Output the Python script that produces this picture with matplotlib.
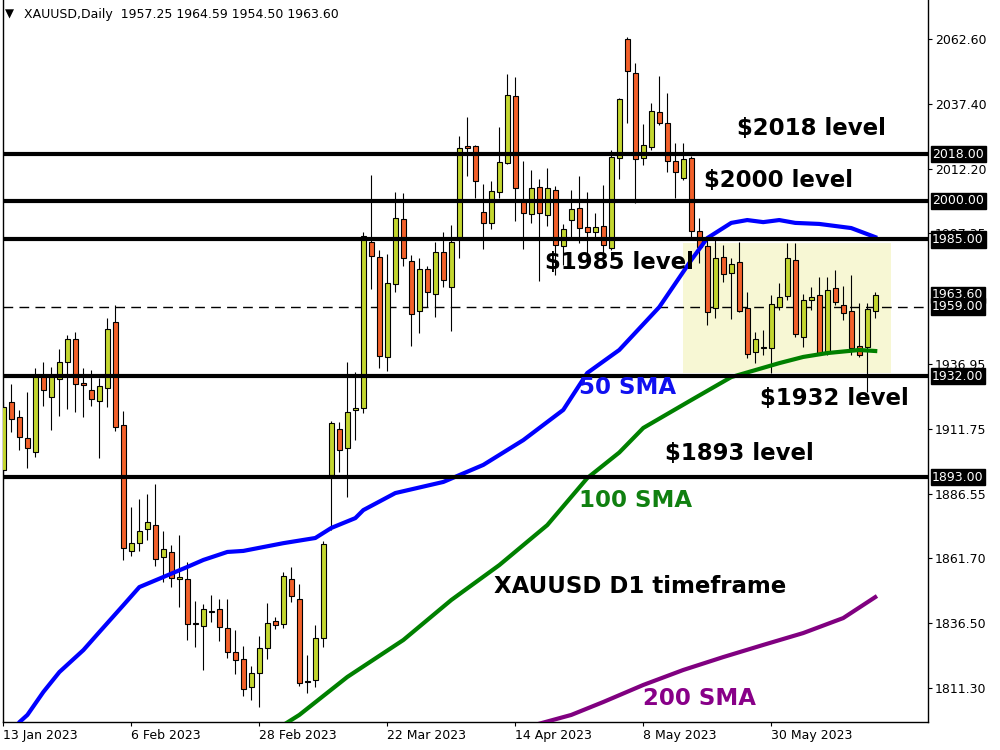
import numpy as np
import matplotlib
matplotlib.use( 'Agg' )
import matplotlib.pyplot as plt
from matplotlib.patches import Rectangle

# XAUUSD daily candles, 13 Jan 2023 -> 16 Jun 2023
opens = [ 1895.7, 1921.9, 1916.1, 1908.0, 1902.8, 1932.1, 1924.1, 1930.8, 1937.4, 1946.3,
          1929.3, 1926.6, 1922.3, 1927.3, 1952.9, 1913.0, 1864.4, 1867.3, 1872.8, 1874.3,
          1861.9, 1863.9, 1853.4, 1853.4, 1836.4, 1835.2, 1840.9, 1841.8, 1834.4, 1825.1,
          1822.4, 1811.6, 1817.0, 1826.7, 1837.1, 1836.0, 1853.4, 1845.8, 1813.9, 1814.3,
          1830.5, 1893.8, 1911.5, 1904.1, 1918.8, 1919.6, 1984.1, 1978.3, 1939.6, 1967.6,
          1992.8, 1976.5, 1957.2, 1973.7, 1963.7, 1980.0, 1966.5, 1985.4, 2021.1, 2021.1,
          1995.5, 1991.2, 2003.2, 2014.5, 2040.4, 1999.8, 1994.7, 2005.2, 1994.3, 2004.0,
          1982.3, 1992.4, 1997.0, 1989.7, 1987.8, 1990.1, 1981.6, 2016.4, 2062.5, 2049.3,
          2016.4, 2020.7, 2034.2, 2030.0, 2015.2, 2008.7, 2016.4, 1988.3, 1982.5, 1958.3,
          1978.1, 1971.9, 1976.1, 1958.3, 1941.4, 1942.8, 1942.8, 1959.0, 1963.2, 1977.0,
          1947.3, 1961.5, 1963.5, 1940.9, 1966.1, 1959.5, 1957.3, 1943.7, 1943.2, 1957.25 ]
highs = [ 1922.2, 1929.0, 1919.0, 1925.8, 1935.1, 1937.4, 1935.5, 1942.5, 1948.0, 1949.0,
          1935.1, 1934.3, 1931.2, 1954.5, 1959.6, 1918.6, 1881.3, 1884.5, 1886.3, 1890.3,
          1872.1, 1866.6, 1870.6, 1860.0, 1845.0, 1843.7, 1847.3, 1845.8, 1845.8, 1833.8,
          1827.6, 1819.8, 1831.3, 1844.2, 1838.9, 1856.2, 1858.0, 1851.5, 1824.1, 1835.6,
          1868.2, 1914.8, 1914.2, 1937.7, 1933.7, 1987.8, 2009.9, 1980.9, 1979.4, 2003.2,
          2002.9, 1979.0, 1977.7, 1974.8, 1984.1, 1987.8, 1990.6, 2024.9, 2032.4, 2021.6,
          2006.3, 2007.5, 2028.5, 2049.0, 2047.9, 2015.2, 2011.9, 2008.3, 2012.5, 2005.6,
          1990.9, 2004.0, 2009.4, 2003.2, 1995.1, 2006.0, 2019.6, 2039.6, 2063.5, 2053.2,
          2029.7, 2037.9, 2048.3, 2041.6, 2022.4, 2022.2, 2017.3, 1993.2, 1986.1, 1985.0,
          1982.8, 1977.7, 1984.0, 1964.8, 1949.3, 1949.9, 1963.5, 1968.0, 1983.5, 1983.5,
          1963.7, 1966.7, 1970.3, 1970.6, 1973.2, 1967.0, 1971.2, 1960.3, 1960.3, 1964.59 ]
lows = [ 1891.8, 1910.5, 1903.5, 1896.4, 1900.9, 1920.6, 1911.2, 1916.6, 1919.3, 1918.2,
         1916.4, 1920.6, 1900.5, 1920.2, 1910.9, 1860.9, 1862.4, 1864.5, 1868.6, 1858.5,
         1852.5, 1850.3, 1842.8, 1830.0, 1827.3, 1818.4, 1837.0, 1829.6, 1823.0, 1816.8,
         1808.3, 1806.7, 1804.1, 1822.7, 1834.2, 1834.4, 1844.7, 1812.2, 1809.3, 1811.6,
         1827.3, 1872.5, 1895.1, 1885.4, 1907.4, 1917.9, 1965.7, 1935.3, 1934.2, 1964.5,
         1974.8, 1943.8, 1948.9, 1958.7, 1955.1, 1966.7, 1949.7, 1977.8, 2009.7, 2000.9,
         1981.4, 1988.9, 2000.9, 2014.1, 1992.2, 1981.2, 1991.2, 1969.0, 1990.3, 1971.2,
         1975.1, 1985.0, 1983.5, 1978.6, 1985.4, 1978.3, 1980.9, 2008.3, 2030.2, 1999.2,
         2013.8, 2019.6, 2029.3, 2011.0, 2001.2, 2008.0, 1984.8, 1975.8, 1951.9, 1954.5,
         1968.6, 1954.1, 1956.8, 1939.0, 1937.0, 1940.2, 1933.2, 1957.7, 1961.5, 1947.2,
         1943.5, 1957.7, 1940.2, 1940.2, 1959.6, 1953.8, 1940.2, 1939.5, 1925.9, 1954.50 ]
closes = [ 1920.2, 1915.4, 1908.4, 1904.1, 1932.1, 1926.6, 1932.1, 1937.4, 1946.3, 1928.9,
           1928.5, 1923.1, 1928.1, 1950.2, 1912.3, 1865.4, 1867.3, 1872.0, 1875.5, 1861.1,
           1865.0, 1853.8, 1854.2, 1836.0, 1836.0, 1841.8, 1841.0, 1834.8, 1825.1, 1822.0,
           1810.8, 1817.0, 1826.7, 1836.4, 1835.6, 1854.6, 1846.8, 1813.1, 1813.5, 1830.5,
           1867.0, 1913.8, 1903.3, 1918.1, 1919.6, 1986.3, 1978.7, 1940.0, 1968.0, 1993.2,
           1977.8, 1956.0, 1973.7, 1964.5, 1980.0, 1969.3, 1984.1, 2020.3, 2020.3, 2007.5,
           1991.2, 2003.6, 2014.9, 2040.8, 2004.8, 1995.1, 2004.8, 1995.1, 2004.8, 1982.7,
           1988.9, 1996.7, 1989.3, 1987.8, 1989.7, 1982.7, 2016.8, 2039.3, 2050.3, 2016.0,
           2021.4, 2034.6, 2030.0, 2015.2, 2011.0, 2016.0, 1988.3, 1982.2, 1957.0, 1977.7,
           1971.5, 1975.4, 1957.4, 1940.6, 1946.6, 1942.9, 1959.9, 1962.8, 1977.7, 1948.3,
           1961.5, 1962.8, 1940.9, 1965.4, 1960.9, 1956.6, 1942.8, 1940.2, 1957.9, 1963.60 ]

# moving averages, sampled at bar numbers
sma50_idx = [ 1, 2, 3, 5, 7, 10, 12, 15, 17, 20, 23, 25, 28, 30, 35, 39, 41, 44, 45, 49,
              55, 60, 65, 70, 73, 77, 82, 86, 88, 91, 93, 95, 97, 99, 102, 106, 109 ]
sma50_val = [ 1793.0, 1798.1, 1800.9, 1809.8, 1817.5, 1826.0, 1833.0, 1843.4, 1850.4, 1854.3,
              1858.2, 1860.9, 1864.0, 1864.4, 1867.4, 1869.4, 1873.3, 1877.1, 1880.2, 1886.8,
              1891.1, 1897.7, 1907.3, 1919.0, 1933.3, 1942.2, 1958.8, 1977.0, 1985.5, 1991.4,
              1992.5, 1991.7, 1992.5, 1991.4, 1991.0, 1989.4, 1985.9 ]
sma100_idx = [ 35, 37, 43, 50, 56, 62, 68, 73, 77, 80, 86, 91, 94, 97, 100, 103, 107, 109 ]
sma100_val = [ 1797.0, 1800.9, 1815.6, 1829.9, 1845.4, 1858.9, 1874.4, 1892.6, 1902.5, 1912.0,
               1922.8, 1931.7, 1934.4, 1937.1, 1939.5, 1941.0, 1942.2, 1941.8 ]
sma200_idx = [ 67, 71, 75, 80, 85, 90, 95, 100, 105, 109 ]
sma200_val = [ 1797.5, 1800.9, 1805.9, 1812.5, 1818.3, 1823.3, 1828.0, 1832.6, 1838.4, 1846.5 ]

# axis labels
date_ticks = [ 0, 16, 32, 48, 64, 80, 96 ]
date_labels = [ '13 Jan 2023', '6 Feb 2023', '28 Feb 2023', '22 Mar 2023',
                '14 Apr 2023', '8 May 2023', '30 May 2023' ]
price_ticks = [ 2062.60, 2037.40, 2012.20, 1987.35, 1936.95,
                1911.75, 1886.55, 1861.70, 1836.50, 1811.30 ]

# horizontal levels and the consolidation box
levels = [ 2018.0, 2000.0, 1985.0, 1932.0, 1893.0 ]
level_names = [ '$2018 level', '$2000 level', '$1985 level', '$1932 level', '$1893 level' ]
dashed_level = 1959.0
last_price = 1963.60
box_bars = [ 85, 111 ]
box_prices = [ 1933.3, 1983.6 ]

bull_color = '#C3D62F'
bear_color = '#F2602A'

fig = plt.figure( figsize = ( 10, 7.5 ), dpi = 100 )
ax = fig.add_axes( [ 0.003, 0.0373, 0.925, 0.9627 ] )

o = np.array( opens )
h = np.array( highs )
l = np.array( lows )
c = np.array( closes )
x = np.arange( len( o ) )
up = c >= o

# range rectangle behind everything
ax.add_patch( Rectangle( ( box_bars[ 0 ], box_prices[ 0 ] ), box_bars[ 1 ] - box_bars[ 0 ],
                         box_prices[ 1 ] - box_prices[ 0 ], facecolor = '#F7F7D4',
                         edgecolor = 'none', zorder = 0.5 ) )

# candles
ax.vlines( x, l, h, color = 'black', lw = 0.8, zorder = 3 )
body_low = np.minimum( o, c )
body_h = np.maximum( np.abs( c - o ), 0.4 )
ax.bar( x[ up ], body_h[ up ], bottom = body_low[ up ], width = 0.62, color = bull_color,
        edgecolor = 'black', lw = 0.8, zorder = 3.1 )
ax.bar( x[ ~up ], body_h[ ~up ], bottom = body_low[ ~up ], width = 0.62, color = bear_color,
        edgecolor = 'black', lw = 0.8, zorder = 3.1 )

# moving averages
ax.plot( sma50_idx, sma50_val, color = '#0000FF', lw = 3, zorder = 3.5 )
ax.plot( sma100_idx, sma100_val, color = '#008000', lw = 3, zorder = 3.5 )
ax.plot( sma200_idx, sma200_val, color = '#800080', lw = 3, zorder = 3.5 )

# levels
for lev in levels:
    ax.axhline( lev, color = 'black', lw = 3, zorder = 4 )
ax.axhline( dashed_level, color = 'black', lw = 1, ls = ( 0, ( 7, 4.5 ) ), zorder = 2 )

ax.set_xlim( -0.05, 115.6 )
ax.set_ylim( 1798.15, 2077.7 )

# right price scale
ax.yaxis.tick_right()
ax.set_yticks( price_ticks )
ax.set_yticklabels( [ '%.2f' % p for p in price_ticks ] )
ax.tick_params( axis = 'y', direction = 'out', length = 3, width = 0.8, pad = 2, labelsize = 9 )
ax.set_xticks( date_ticks )
ax.set_xticklabels( date_labels )
ax.tick_params( axis = 'x', direction = 'out', length = 3, width = 0.8, pad = 2, labelsize = 9 )
for t in ax.get_xticklabels():
    t.set_ha( 'left' )

for side in [ 'left', 'right', 'bottom' ]:
    ax.spines[ side ].set_linewidth( 1.0 )
ax.spines[ 'top' ].set_visible( False )

# black price boxes on the scale
ytrans = ax.get_yaxis_transform()
for p in levels + [ last_price, dashed_level ]:
    ax.text( 1.0045, p, '%.2f' % p, transform = ytrans, ha = 'left', va = 'center',
             fontsize = 9, color = 'white', clip_on = False, zorder = 6,
             bbox = dict( facecolor = 'black', edgecolor = 'black', pad = 1.2 ) )

# annotations
bold = dict( family = 'DejaVu Sans', weight = 'bold', fontsize = 16.5 )
ax.text( 91.7, 2027.8, level_names[ 0 ], color = 'black', va = 'center', zorder = 7, **bold )
ax.text( 87.6, 2008.0, level_names[ 1 ], color = 'black', va = 'center', zorder = 7, **bold )
ax.text( 67.7, 1975.9, level_names[ 2 ], color = 'black', va = 'center', zorder = 7, **bold )
ax.text( 94.6, 1923.6, level_names[ 3 ], color = 'black', va = 'center', zorder = 7, **bold )
ax.text( 82.7, 1902.3, level_names[ 4 ], color = 'black', va = 'center', zorder = 7, **bold )
ax.text( 72.0, 1927.5, '50 SMA', color = '#1010F0', va = 'center', zorder = 7, **bold )
ax.text( 72.0, 1884.1, '100 SMA', color = '#108010', va = 'center', zorder = 7, **bold )
ax.text( 80.0, 1807.4, '200 SMA', color = '#880088', va = 'center', zorder = 7, **bold )
ax.text( 61.3, 1850.8, 'XAUUSD D1 timeframe', color = 'black', va = 'center', zorder = 7, **bold )

# header line
fig.text( 0.005, 0.9813, '\u25BC', fontsize = 8.5, va = 'center', ha = 'left' )
fig.text( 0.024, 0.9813, 'XAUUSD,Daily  1957.25 1964.59 1954.50 1963.60', fontsize = 9,
          va = 'center', ha = 'left' )

fig.savefig( 'out.png', dpi = 100 )
